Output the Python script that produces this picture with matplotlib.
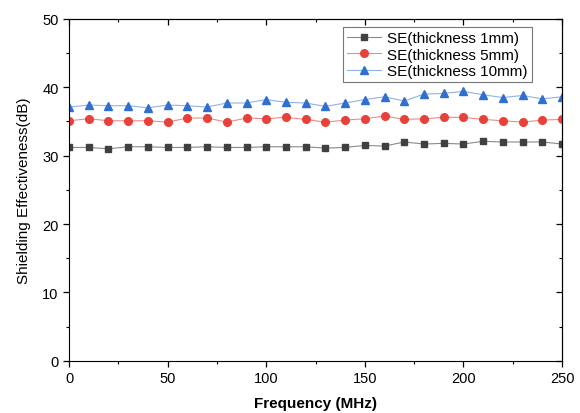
import matplotlib
matplotlib.use("Agg")
import matplotlib.pyplot as plt
from matplotlib.ticker import MultipleLocator

plt.rcParams['font.family'] = ['Liberation Sans', 'DejaVu Sans']

freq = list(range(0, 251, 10))
se_1mm = [31.2, 31.2, 31.0, 31.3, 31.3, 31.2, 31.2, 31.3, 31.2, 31.2, 31.3, 31.3, 31.3,
          31.1, 31.2, 31.5, 31.4, 32.0, 31.7, 31.8, 31.7, 32.1, 32.0, 32.0, 32.0, 31.7]
se_5mm = [35.1, 35.4, 35.1, 35.1, 35.1, 34.9, 35.5, 35.5, 34.9, 35.5, 35.4, 35.6, 35.3,
          34.9, 35.2, 35.4, 35.8, 35.3, 35.4, 35.6, 35.6, 35.3, 35.1, 34.9, 35.2, 35.3]
se_10mm = [37.1, 37.4, 37.3, 37.3, 37.0, 37.4, 37.3, 37.1, 37.7, 37.7, 38.2, 37.8, 37.7,
           37.2, 37.7, 38.2, 38.6, 38.0, 39.0, 39.1, 39.4, 38.9, 38.5, 38.8, 38.3, 38.6]
labels = ['SE(thickness 1mm)', 'SE(thickness 5mm)', 'SE(thickness 10mm)']

fig = plt.figure(figsize=(5.8, 4.14), dpi=100)
ax = fig.add_axes([0.119, 0.126, 0.85, 0.826])

ax.plot(freq, se_1mm, color='#8a8a8a', lw=0.8, marker='s', ms=5,
        mfc='#404040', mec='#404040', label=labels[0])
ax.plot(freq, se_5mm, color='#f08a85', lw=0.8, marker='o', ms=5.5,
        mfc='#e8413a', mec='#e8413a', label=labels[1])
ax.plot(freq, se_10mm, color='#8fb3e6', lw=0.8, marker='^', ms=6,
        mfc='#2f6fd0', mec='#2f6fd0', label=labels[2])

ax.set_xlim(0, 250)
ax.set_ylim(0, 50)
ax.xaxis.set_major_locator(MultipleLocator(50))
ax.xaxis.set_minor_locator(MultipleLocator(25))
ax.yaxis.set_major_locator(MultipleLocator(10))
ax.yaxis.set_minor_locator(MultipleLocator(5))
ax.tick_params(which='major', direction='out', length=4, width=0.9, labelsize=10.5)
ax.tick_params(which='minor', direction='out', length=2, width=0.8)

# mirrored ticks on top and right, pointing inward
top = ax.secondary_xaxis('top')
top.xaxis.set_major_locator(MultipleLocator(50))
top.xaxis.set_minor_locator(MultipleLocator(25))
top.tick_params(which='major', direction='in', length=4, width=0.9, labeltop=False)
top.tick_params(which='minor', direction='in', length=2, width=0.8)
right = ax.secondary_yaxis('right')
right.yaxis.set_major_locator(MultipleLocator(10))
right.yaxis.set_minor_locator(MultipleLocator(5))
right.tick_params(which='major', direction='in', length=4, width=0.9, labelright=False)
right.tick_params(which='minor', direction='in', length=2, width=0.8)

ax.set_xlabel('Frequency (MHz)', fontsize=11, fontweight='bold', labelpad=8)
ax.set_ylabel('Shielding Effectiveness(dB)', fontsize=11, labelpad=8)

leg = ax.legend(loc='upper right', bbox_to_anchor=(0.939, 0.977), borderaxespad=0,
                fontsize=11, frameon=True, fancybox=False, edgecolor='#555555',
                borderpad=0.3, handlelength=2.2, labelspacing=0.15, handletextpad=0.4)
leg.get_frame().set_linewidth(0.8)

fig.savefig('out.png', dpi=100)
